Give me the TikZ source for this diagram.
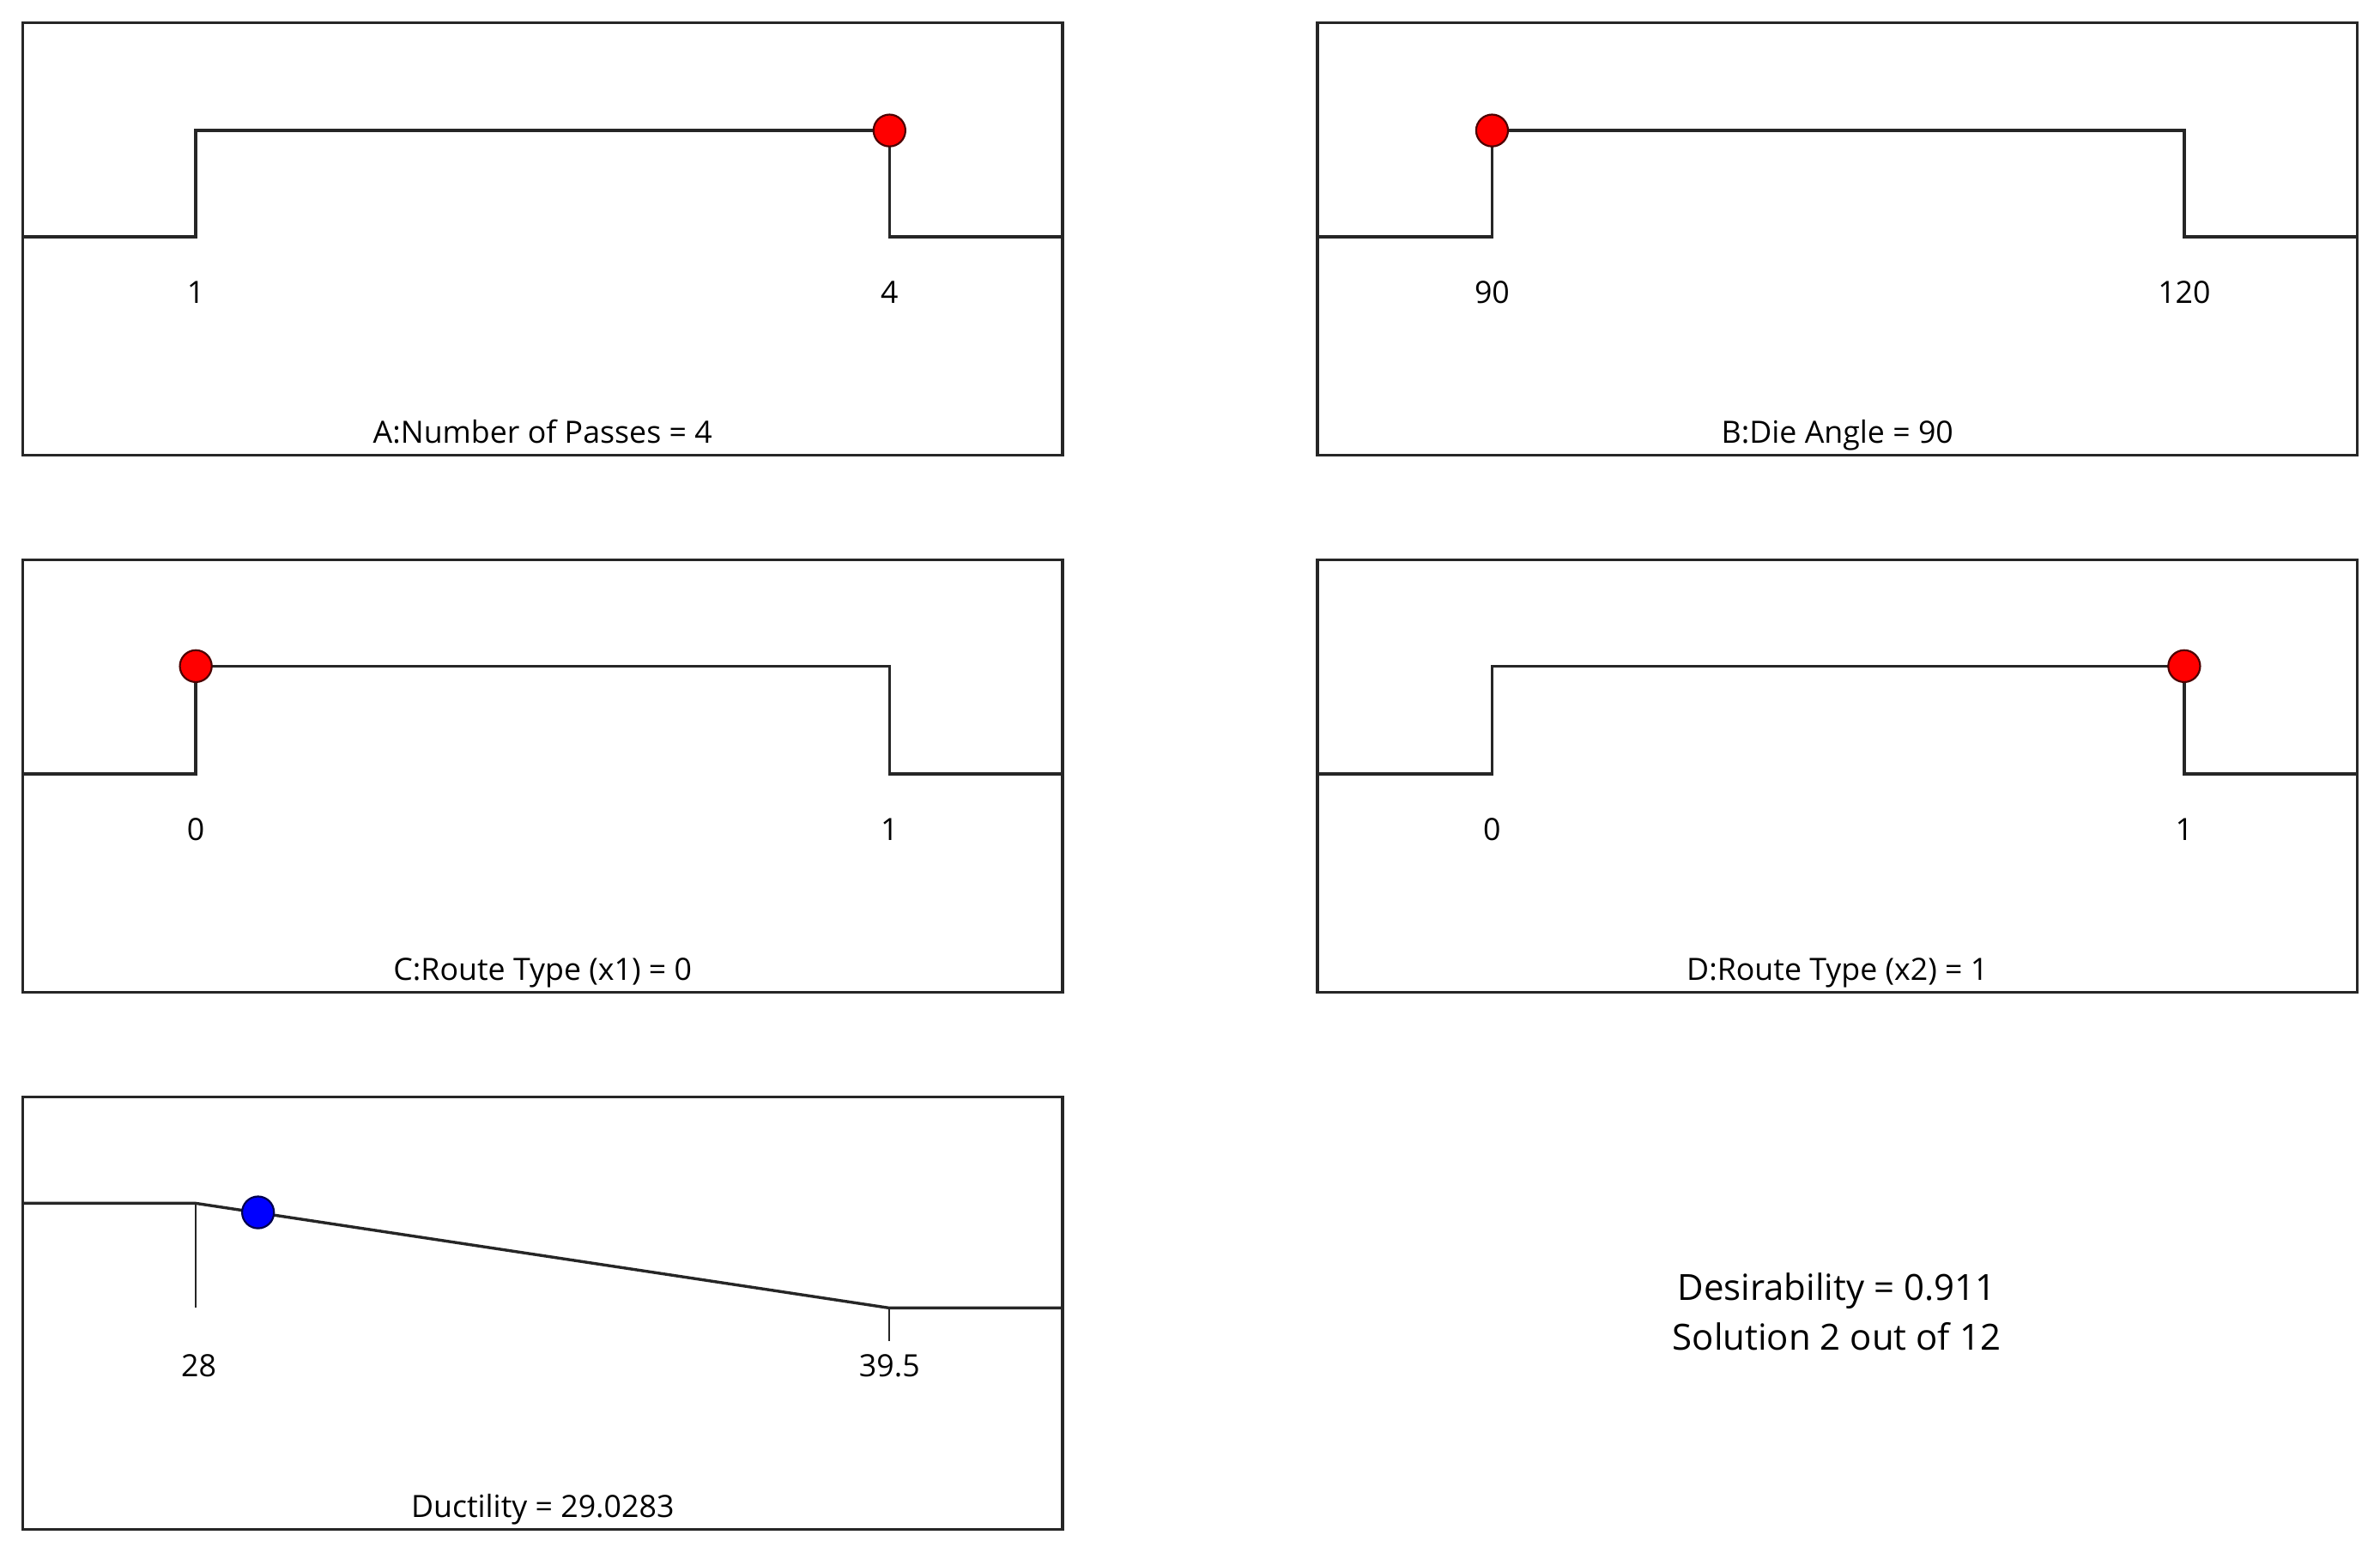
\documentclass[tikz,border=0pt]{standalone}
\usepackage{fontspec}
\setmainfont{Open Sans}
\begin{document}
\begin{tikzpicture}[x=0.02cm,y=-0.02cm,
  panel/.style={draw=black!85, line width=1.1pt},
  curve/.style={draw=black!85, line width=1.1pt, line join=miter},
  tickline/.style={draw=black!85, line width=0.7pt},
  dotbase/.style={circle, line width=0.7pt, minimum size=0.42cm, inner sep=0pt},
  reddot/.style={dotbase, draw=black!70!red, fill=red},
  bluedot/.style={dotbase, draw=black!70!blue, fill=blue},
  lbl/.style={font=\fontsize{11.5}{13}\selectfont, inner sep=0pt, anchor=base},
  big/.style={font=\fontsize{13.5}{16}\selectfont, inner sep=0pt, anchor=base},
]
\useasboundingbox (0,0) rectangle (1568,1023);

% ---------- Panel A ----------
\draw[panel] (15,15) rectangle (700,300);
\draw[curve] (15,156) -- (129,156) -- (129,86) -- (586,86) -- (586,156) -- (700,156);
\node[reddot] (dA) at (586,86) {};
\node[lbl] (a1) at (129,200) {1};
\node[lbl] (a4) at (586,200) {4};
\node[lbl] (ta) at (357.5,292) {A:Number of Passes = 4};

% ---------- Panel B ----------
\draw[panel] (868,15) rectangle (1553,300);
\draw[curve] (868,156) -- (983,156) -- (983,86) -- (1439,86) -- (1439,156) -- (1553,156);
\node[reddot] (dB) at (983,86) {};
\node[lbl] (b90) at (983,200) {90};
\node[lbl] (b120) at (1439,200) {120};
\node[lbl] (tb) at (1210.5,292) {B:Die Angle = 90};

% ---------- Panel C ----------
\draw[panel] (15,369) rectangle (700,654);
\draw[curve] (15,510) -- (129,510) -- (129,439) -- (586,439) -- (586,510) -- (700,510);
\node[reddot] (dC) at (129,439) {};
\node[lbl] (c0) at (129,554) {0};
\node[lbl] (c1) at (586,554) {1};
\node[lbl] (tc) at (357.5,646) {C:Route Type (x1) = 0};

% ---------- Panel D ----------
\draw[panel] (868,369) rectangle (1553,654);
\draw[curve] (868,510) -- (983,510) -- (983,439) -- (1439,439) -- (1439,510) -- (1553,510);
\node[reddot] (dD) at (1439,439) {};
\node[lbl] (d0) at (983,554) {0};
\node[lbl] (d1) at (1439,554) {1};
\node[lbl] (td) at (1210.5,646) {D:Route Type (x2) = 1};

% ---------- Panel E (Ductility) ----------
\draw[panel] (15,723) rectangle (700,1008);
\draw[curve] (15,793) -- (129,793) -- (586,862) -- (700,862);
\draw[tickline] (129,793) -- (129,862);
\draw[tickline] (586,862) -- (586,884);
\node[bluedot] (dE) at (170,799) {};
\node[lbl] (e28) at (131,907) {28};
\node[lbl] (e395) at (586,907) {39.5};
\node[lbl] (te) at (357.5,1000) {Ductility = 29.0283};

% ---------- Summary ----------
\node[big] (des) at (1210,857) {Desirability = 0.911};
\node[big] (sol) at (1210,890) {Solution 2 out of 12};
\end{tikzpicture}
\end{document}
